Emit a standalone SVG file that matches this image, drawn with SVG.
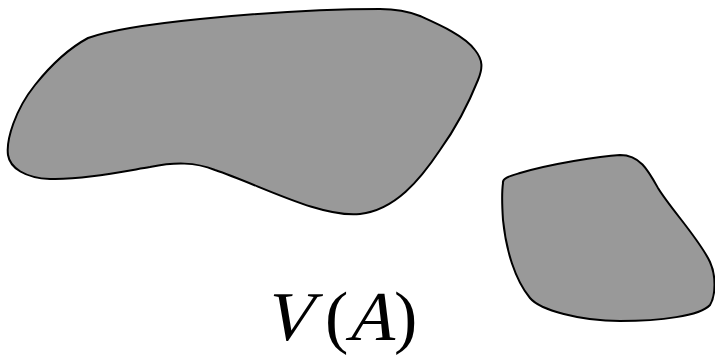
<svg xmlns="http://www.w3.org/2000/svg" width="715" height="357" viewBox="0 0 715 357">
<style>
.blob{fill:#999999;stroke:#000000;stroke-width:2;stroke-linejoin:round}
.lbl{font-family:'Liberation Serif','Times New Roman',serif;font-size:70px;fill:#000}
</style>
<rect width="715" height="357" fill="#ffffff"/>
<g id="region-large">
<path class="blob" d="M 88 38 C 110 30, 150 24, 200 19 C 260 13, 330 9, 380 9 C 400 9, 410 12, 420 16 C 440 25, 465 36, 475 50 C 483 60, 483 68, 478 80 C 470 100, 458 125, 440 150 C 420 180, 395 210, 360 214 C 320 218, 260 185, 215 170 C 195 162, 175 162, 150 167 C 120 172, 80 180, 50 179 C 25 178, 10 168, 8 155 C 6 140, 15 110, 35 85 C 55 60, 75 45, 88 38 Z"/>
</g>
<g id="region-small">
<path class="blob" d="M 503 183 C 502 178, 510 176, 520 173 C 550 164, 600 156, 620 155 C 640 155, 648 170, 658 188 C 670 208, 700 240, 710 262 C 716 275, 716 295, 710 305 C 700 316, 660 321, 620 321 C 580 321, 540 310, 530 298 C 515 280, 506 250, 503 220 C 502 205, 502 190, 503 183 Z"/>
</g>
<g id="label">
<text class="lbl" transform="translate(262,340) skewX(-14)">V</text>
<text class="lbl" x="325" y="340">(</text>
<text class="lbl" transform="translate(345,340) skewX(-14)">A</text>
<text class="lbl" x="394" y="340">)</text>
</g>
</svg>
